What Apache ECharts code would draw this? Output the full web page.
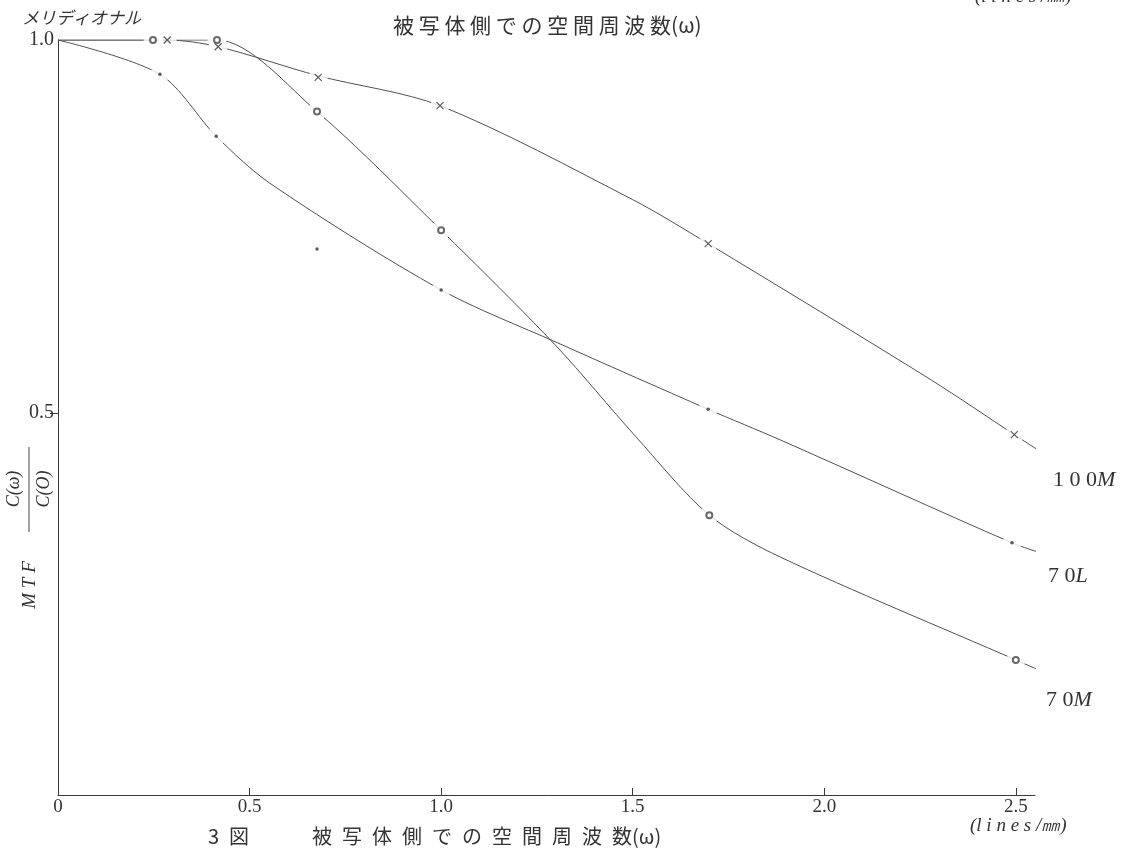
<!DOCTYPE html>
<html>
<head>
<meta charset="utf-8">
<title>3図 MTF</title>
<script src="https://cdn.jsdelivr.net/npm/echarts@6/dist/echarts.min.js"></script>
<style>
  html, body { margin: 0; padding: 0; background: #fff; }
  #main { width: 1126px; height: 848px; }
</style>
</head>
<body>
<div id="main"></div>
<script type="text/javascript">
// 目盛り
var xTicks = [0, 0.5, 1.0, 1.5, 2.0, 2.5];
var yTicks = [0.5, 1.0];

// 測定点 100M (×)
var m100MX = [0.285, 0.418, 0.679, 0.997, 1.697, 2.496];
var m100MY = [1.0, 0.991, 0.950, 0.912, 0.727, 0.471];
// 測定点 70M (○)
var m70MX = [0.248, 0.415, 0.676, 1.0, 1.70, 2.50];
var m70MY = [1.0, 1.0, 0.904, 0.745, 0.363, 0.169];
// 測定点 70L (・)
var m70LX = [0.266, 0.413, 0.676, 1.0, 1.697, 2.49];
var m70LY = [0.954, 0.871, 0.720, 0.665, 0.505, 0.326];

// 曲線 (図から読んだ点)
var c100MX = [0, 0.285, 0.418, 0.679, 0.997, 1.50, 1.697, 2.28, 2.496, 2.59];
var c100MY = [1.0, 1.0, 0.991, 0.952, 0.912, 0.786, 0.727, 0.544, 0.471, 0.44];
var c70MX = [0, 0.248, 0.415, 0.676, 1.0, 1.3, 1.507, 1.70, 1.885, 2.50, 2.58];
var c70MY = [1.0, 1.0, 1.0, 0.904, 0.745, 0.59, 0.469, 0.363, 0.307, 0.169, 0.151];
var c70LX = [0, 0.266, 0.413, 0.553, 1.0, 1.3, 1.697, 1.885, 2.49, 2.58];
var c70LY = [1.0, 0.954, 0.871, 0.808, 0.665, 0.595, 0.505, 0.464, 0.326, 0.31];

function zip(xs, ys) {
    var res = [];
    for (var i = 0; i < xs.length; i++) res.push([xs[i], ys[i]]);
    return res;
}

var ink = '#3a3a3a';
var serif = '"Liberation Serif", "DejaVu Serif", serif';
var jp = '"Noto Sans CJK JP", sans-serif';

function curve(xs, ys) {
    return {
        type: 'line', data: zip(xs, ys), smooth: 0.3,
        showSymbol: false, silent: true, z: 2,
        lineStyle: { color: '#505050', width: 1 }
    };
}

var crossPath = 'path://M0,0L10,10M10,0L0,10';

var myChart = echarts.init(document.getElementById('main'));

var option = {
    animation: false,
    backgroundColor: '#fff',
    grid: { left: 58, top: 40, right: 91, bottom: 53 },
    xAxis: {
        type: 'value', min: 0, max: 2.55,
        axisLine: { onZero: false, lineStyle: { color: ink, width: 1 } },
        axisTick: { inside: true, length: 7, customValues: xTicks.slice(1), lineStyle: { color: ink } },
        axisLabel: {
            customValues: xTicks, margin: 3, color: '#333', fontFamily: serif, fontSize: 19,
            formatter: function (v) { return v === 0 ? '0' : v.toFixed(1); }
        },
        splitLine: { show: false }
    },
    yAxis: {
        type: 'value', min: -0.012, max: 1.0,
        axisLine: { onZero: false, lineStyle: { color: ink, width: 1 } },
        axisTick: { length: 8, customValues: [0.5], lineStyle: { color: ink } },
        axisLabel: {
            customValues: yTicks, margin: 4, color: '#333', fontFamily: serif, fontSize: 20,
            formatter: function (v) { return v.toFixed(1); }
        },
        splitLine: { show: false }
    },
    series: [
        curve(c100MX, c100MY),
        curve(c70MX, c70MY),
        curve(c70LX, c70LY),
        // 線の切れ目 (白抜き)
        {
            type: 'scatter', silent: true, z: 3, symbol: 'circle', symbolSize: 19,
            itemStyle: { color: '#fff' },
            data: zip(m100MX, m100MY).concat(zip(m70MX, m70MY), zip(m70LX.slice(0, 2).concat(m70LX.slice(3)), m70LY.slice(0, 2).concat(m70LY.slice(3))))
        },
        {
            name: '100M', type: 'scatter', z: 4, symbol: crossPath, symbolSize: 7,
            itemStyle: { color: 'none', borderColor: '#333', borderWidth: 1.2 },
            data: zip(m100MX, m100MY)
        },
        {
            name: '70M', type: 'scatter', z: 4, symbol: 'emptyCircle', symbolSize: 6,
            itemStyle: { color: '#444', borderColor: '#444', borderWidth: 1 },
            data: zip(m70MX, m70MY)
        },
        {
            name: '70L', type: 'scatter', z: 4, symbol: 'circle', symbolSize: 3.5,
            itemStyle: { color: '#333' },
            data: zip(m70LX, m70LY)
        }
    ],
    graphic: [
        { type: 'text', x: 22, y: 18, style: { text: 'メリディオナル', font: 'italic 17px ' + jp, fill: '#333', verticalAlign: 'middle' } },
        { type: 'text', x: 393, y: 25, style: { text: '被 写 体 側 で の 空 間 周 波 数(ω)', font: '21px ' + jp, fill: '#333', verticalAlign: 'middle' } },
        { type: 'text', x: 975, y: -3, style: { text: '(l i n e s /㎜)', font: 'italic 19px ' + serif, fill: '#333', verticalAlign: 'middle' } },
        { type: 'text', x: 970, y: 826, style: { text: '(l i n e s /㎜)', font: 'italic 19px ' + serif, fill: '#333', verticalAlign: 'middle' } },
        { type: 'text', x: 208, y: 836, style: { text: '3\u2002図', font: '20px ' + jp, fill: '#333', verticalAlign: 'middle' } },
        { type: 'text', x: 312, y: 836, style: { text: '被\u2002写\u2002体\u2002側\u2002で\u2002の\u2002空\u2002間\u2002周\u2002波\u2002数(ω)', font: '20px ' + jp, fill: '#333', verticalAlign: 'middle' } },
        // 系列名
        { type: 'text', x: 1053, y: 480, style: { text: '{n|1 0 0}{i|M}', verticalAlign: 'middle', rich: { n: { font: '22px ' + serif, fill: '#333' }, i: { font: 'italic 22px ' + serif, fill: '#333' } } } },
        { type: 'text', x: 1048, y: 576, style: { text: '{n|7 0}{i|L}', verticalAlign: 'middle', rich: { n: { font: '22px ' + serif, fill: '#333' }, i: { font: 'italic 22px ' + serif, fill: '#333' } } } },
        { type: 'text', x: 1046, y: 700, style: { text: '{n|7 0}{i|M}', verticalAlign: 'middle', rich: { n: { font: '22px ' + serif, fill: '#333' }, i: { font: 'italic 22px ' + serif, fill: '#333' } } } },
        // 縦軸名 MTF C(ω)/C(O)
        { type: 'text', x: 30, y: 585, rotation: Math.PI / 2, style: { text: 'M T F', font: 'italic 19px ' + serif, fill: '#333', align: 'center', verticalAlign: 'middle' } },
        { type: 'text', x: 14, y: 489, rotation: Math.PI / 2, style: { text: 'C(ω)', font: 'italic 18px ' + serif, fill: '#333', align: 'center', verticalAlign: 'middle' } },
        { type: 'text', x: 44, y: 489, rotation: Math.PI / 2, style: { text: 'C(O)', font: 'italic 18px ' + serif, fill: '#333', align: 'center', verticalAlign: 'middle' } },
        { type: 'line', shape: { x1: 29, y1: 447, x2: 29, y2: 532 }, style: { stroke: '#444', lineWidth: 1 } }
    ]
};

myChart.setOption(option);
</script>
</body>
</html>
